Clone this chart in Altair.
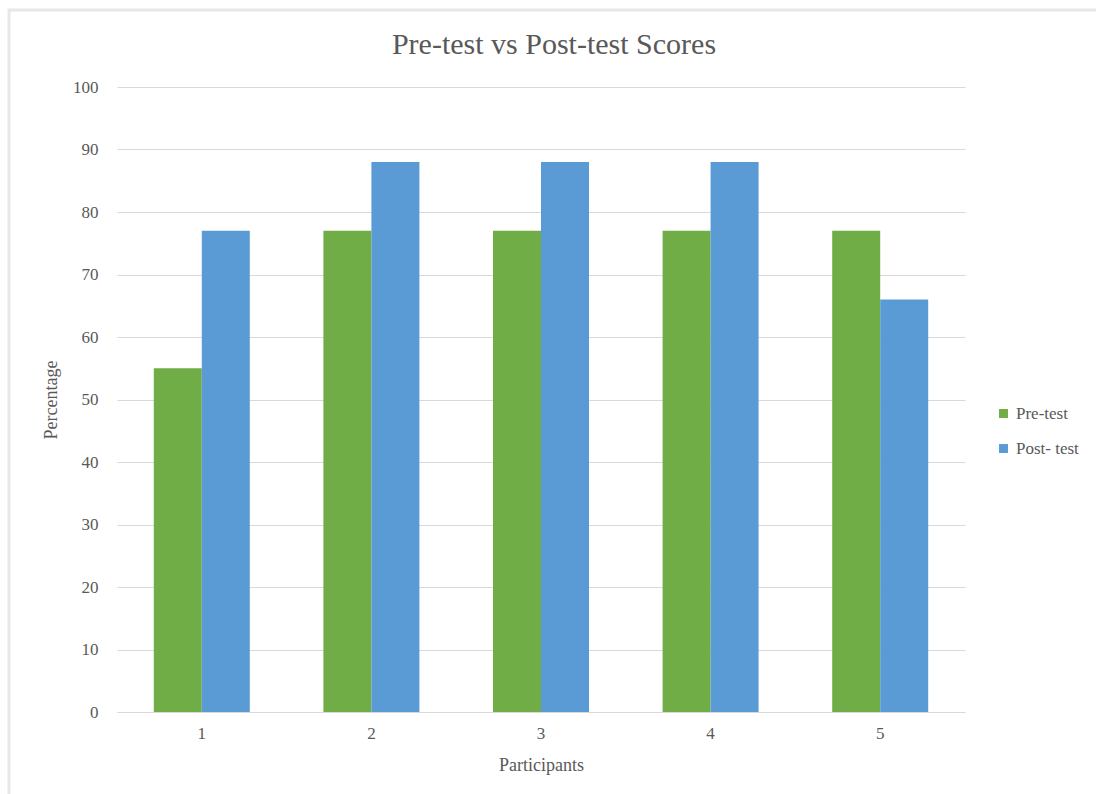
import altair as alt
import pandas as pd

participants = ["1", "2", "3", "4", "5"]
pre_test = [55, 77, 77, 77, 77]
post_test = [77, 88, 88, 88, 66]
series = ["Pre-test", "Post- test"]
colors = ["#70AD47", "#5B9BD5"]
title_text = "Pre-test vs Post-test Scores"

rows = []
for p, a, b in zip(participants, pre_test, post_test):
    rows.append({"Participant": p, "Series": series[0], "Value": a})
    rows.append({"Participant": p, "Series": series[1], "Value": b})
df = pd.DataFrame(rows)

FONT = "Liberation Serif"
GREY = "#595959"

bars = alt.Chart(df).mark_bar().encode(
    x=alt.X("Participant:N", sort=participants,
            scale=alt.Scale(paddingInner=0.434, paddingOuter=0.217),
            axis=alt.Axis(title="Participants", labelAngle=0, ticks=False,
                          grid=False, domainColor="#d9d9d9", labelPadding=13,
                          titlePadding=15)),
    xOffset=alt.XOffset("Series:N", sort=series),
    y=alt.Y("Value:Q", scale=alt.Scale(domain=[0, 100]),
            axis=alt.Axis(title="Percentage", values=list(range(0, 101, 10)),
                          ticks=False, domain=False, grid=True,
                          gridColor="#d9d9d9",
                          labelPadding=19, titlePadding=12)),
    color=alt.Color("Series:N", sort=series,
                    scale=alt.Scale(domain=series, range=colors),
                    legend=alt.Legend(title=None, orient="none",
                                      legendX=878, legendY=318,
                                      symbolType="square", symbolSize=80,
                                      labelFont=FONT, labelFontSize=17,
                                      labelColor=GREY, rowPadding=17)),
)

frame_left = alt.Chart().mark_rule(color="#e8e8e8", strokeWidth=3).encode(
    x=alt.value(-108), y=alt.value(-78), y2=alt.value(707))
frame_top = alt.Chart().mark_rule(color="#e8e8e8", strokeWidth=3).encode(
    x=alt.value(-109), x2=alt.value(979), y=alt.value(-77))
title_mark = alt.Chart().mark_text(
    text=title_text, font=FONT, fontSize=30, color=GREY,
    align="center", baseline="alphabetic").encode(
    x=alt.value(437), y=alt.value(-33))

chart = alt.layer(frame_left, frame_top, title_mark, bars).properties(
    width=848, height=625,
    padding={"left": 117, "top": 87, "right": 131, "bottom": 82},
    autosize=alt.AutoSizeParams(type="none"),
).configure(background="white").configure_view(stroke=None).configure_axis(
    labelFont=FONT, labelFontSize=17, labelColor=GREY,
    titleFont=FONT, titleFontSize=18, titleColor=GREY, titleFontWeight="normal",
)

chart.save("out.html", embed_options={"renderer": "svg", "actions": False})
